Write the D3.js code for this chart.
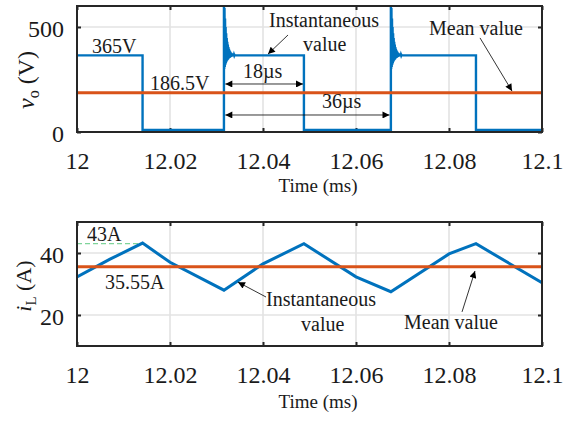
<!DOCTYPE html>
<html>
<head>
<meta charset="utf-8">
<script src="https://cdn.jsdelivr.net/npm/d3@7/dist/d3.min.js"></script>
<style>
  html, body { margin: 0; padding: 0; background: #fff; }
  svg { display: block; }
  svg text { font-family: "Liberation Serif", "Times New Roman", serif !important; fill: #1a1a1a; }
</style>
</head>
<body>
<svg id="chart" width="573" height="421"></svg>
<script>
// ---------------- data ----------------
const xTickValues = [12, 12.02, 12.04, 12.06, 12.08, 12.1];
const xTickLabels = ["12", "12.02", "12.04", "12.06", "12.08", "12.1"];
const vTickValues = [0, 500];
const vTickLabels = ["0", "500"];
const iTickValues = [20, 40];
const iTickLabels = ["20", "40"];

// output voltage: switching edges (ms) and levels (V)
const vFallTimes = [12.0141, 12.0488, 12.0858];
const vRiseTimes = [12.0316, 12.0675];
const vHigh = 365;
const vLow = 10;
// ringing after each rising edge (offset in ms, value in V)
const ringOffsets = [0, 0.00006, 0.00012, 0.00018, 0.00024, 0.0003, 0.00036, 0.00042, 0.00048, 0.00054,
                     0.0006, 0.00066, 0.00072, 0.00078, 0.00084, 0.0009, 0.00096, 0.00102, 0.00108, 0.00114,
                     0.0012, 0.00126, 0.00132, 0.00138, 0.00144, 0.0015, 0.00156, 0.00162, 0.00168, 0.00174,
                     0.0018, 0.00186, 0.00192, 0.00198, 0.00204, 0.0021, 0.00216, 0.00222, 0.00228, 0.00234];
const ringValues  = [640, 300, 590, 310, 540, 320, 500, 328, 470, 334, 448, 339, 430, 343, 416,
                     347, 405, 350, 396, 352, 389, 354, 384, 356, 380, 358, 377, 359, 375, 360,
                     373, 361, 371, 362, 369, 363, 368, 364, 367, 365];
const vMean = 186.5;

// inductor current (ms, A)
const iTimes  = [12, 12.0071, 12.0141, 12.02, 12.0316, 12.04, 12.0488, 12.06, 12.0675, 12.08, 12.0858, 12.1];
const iValues = [32.3, 38.0, 43.2, 37.0, 28.0, 36.5, 43.0, 32.3, 27.5, 39.7, 43.0, 30.4];
const iMean = 35.55;
const iPeak = 43;

// ---------------- layout ----------------
const svg = d3.select("#chart");
const FONT = "Liberation Serif, Times New Roman, serif";
const L = 77, R = 542;
const top1 = 6, bot1 = 132;
const top2 = 222, bot2 = 346;
const blue = "#0072BD", orange = "#D95319", dark = "#262626", grid = "#e3e3e3";

const x = d3.scaleLinear().domain([12, 12.1]).range([L, R]);
const yV = d3.scaleLinear().domain([0, 600]).range([bot1, top1]);
const yI = d3.scaleLinear().domain([10, 50]).range([bot2, top2]);

const defs = svg.append("defs");
defs.append("marker").attr("id", "ah").attr("viewBox", "0 0 10 10")
  .attr("refX", 10).attr("refY", 5).attr("markerWidth", 9).attr("markerHeight", 7)
  .attr("markerUnits", "userSpaceOnUse").attr("orient", "auto-start-reverse")
  .append("path").attr("d", "M0,0 L10,5 L0,10 Z").attr("fill", "#000");

function panel(yScale, top, bot, yTicks, yLabels, id) {
  const g = svg.append("g");
  defs.append("clipPath").attr("id", id).append("rect")
    .attr("x", L).attr("y", top).attr("width", R - L).attr("height", bot - top);
  // grid
  g.selectAll(".gx").data(xTickValues.slice(1, -1)).join("line")
    .attr("x1", d => x(d)).attr("x2", d => x(d)).attr("y1", top).attr("y2", bot)
    .attr("stroke", grid).attr("stroke-width", 1.6);
  g.selectAll(".gy").data(yTicks).join("line")
    .attr("x1", L).attr("x2", R).attr("y1", d => yScale(d)).attr("y2", d => yScale(d))
    .attr("stroke", grid).attr("stroke-width", 1.6);
  // axes
  const ab = g.append("g").attr("transform", `translate(0,${bot})`)
    .call(d3.axisBottom(x).tickValues(xTickValues).tickFormat((d, i) => xTickLabels[i]).tickSize(-4));
  ab.attr("font-family", FONT).attr("font-size", 24);
  ab.selectAll("text").attr("y", 37).attr("dy", 0).attr("fill", "#333");
  g.append("g").attr("transform", `translate(0,${top})`)
    .call(d3.axisTop(x).tickValues(xTickValues).tickFormat("").tickSize(-4));
  const al = g.append("g").attr("transform", `translate(${L},0)`)
    .call(d3.axisLeft(yScale).tickValues(yTicks).tickFormat((d, i) => yLabels[i]).tickSize(-4));
  al.attr("font-family", FONT).attr("font-size", 24);
  al.selectAll("text").attr("x", -13).attr("dy", 0).attr("y", 9.5).attr("fill", "#333");
  g.append("g").attr("transform", `translate(${R},0)`)
    .call(d3.axisRight(yScale).tickValues(yTicks).tickFormat("").tickSize(-4));
  g.selectAll(".domain").remove();
  g.selectAll(".tick line").attr("stroke", dark).attr("stroke-width", 2);
  return g;
}

// ----- top panel -----
panel(yV, top1, bot1, vTickValues, vTickLabels, "c1");

const vPts = [[12, vHigh]];
const edges = [];
vFallTimes.forEach(t => edges.push({t, type: "fall"}));
vRiseTimes.forEach(t => edges.push({t, type: "rise"}));
edges.sort((a, b) => a.t - b.t);
edges.forEach(e => {
  if (e.type === "fall") { vPts.push([e.t, vHigh]); vPts.push([e.t, vLow]); }
  else {
    vPts.push([e.t, vLow]);
    ringOffsets.forEach((o, k) => vPts.push([e.t + o, ringValues[k]]));
  }
});
vPts.push([12.1, vLow]);

const lineV = d3.line().x(d => x(d[0])).y(d => yV(d[1]));
svg.append("path").datum(vPts).attr("d", lineV).attr("clip-path", "url(#c1)")
  .attr("fill", "none").attr("stroke", blue).attr("stroke-width", 2.4).attr("stroke-linejoin", "miter");
svg.append("line").attr("x1", x(12)).attr("x2", x(12.1)).attr("y1", yV(vMean)).attr("y2", yV(vMean))
  .attr("stroke", orange).attr("stroke-width", 3);

svg.append("rect").attr("x", L).attr("y", top1).attr("width", R - L).attr("height", bot1 - top1)
  .attr("fill", "none").attr("stroke", dark).attr("stroke-width", 2);

// ----- bottom panel -----
panel(yI, top2, bot2, iTickValues, iTickLabels, "c2");
svg.append("line").attr("x1", x(12)).attr("x2", x(vFallTimes[0])).attr("y1", yI(iPeak)).attr("y2", yI(iPeak))
  .attr("stroke", "#7fd49a").attr("stroke-width", 1.2).attr("stroke-dasharray", "5,3");
const lineI = d3.line().x((d, k) => x(iTimes[k])).y(d => yI(d));
svg.append("path").datum(iValues).attr("d", lineI).attr("clip-path", "url(#c2)")
  .attr("fill", "none").attr("stroke", blue).attr("stroke-width", 3);
svg.append("line").attr("x1", x(12)).attr("x2", x(12.1)).attr("y1", yI(iMean)).attr("y2", yI(iMean))
  .attr("stroke", orange).attr("stroke-width", 3);
svg.append("rect").attr("x", L).attr("y", top2).attr("width", R - L).attr("height", bot2 - top2)
  .attr("fill", "none").attr("stroke", dark).attr("stroke-width", 2);

// ----- annotations -----
function txt(s, px, py, size, anchor) {
  return svg.append("text").attr("x", px).attr("y", py).attr("text-anchor", anchor || "start")
    .style("font-size", (size || 20) + "px").text(s);
}
function arrow(t1, v1, t2, v2, ys, both) {
  const l = svg.append("line").attr("x1", x(t1)).attr("y1", ys(v1)).attr("x2", x(t2)).attr("y2", ys(v2))
    .attr("stroke", "#000").attr("stroke-width", 0.8).attr("marker-end", "url(#ah)");
  if (both) l.attr("marker-start", "url(#ah)");
}

txt("365V", 92, 53);
txt("186.5V", 150, 90);
txt("Instantaneous", 269, 27);
txt("value", 303, 51);
txt("18µs", 243, 78);
txt("36µs", 322, 108);
txt("Mean value", 429, 35);
arrow(12.04538, 462, 12.04108, 371, yV);
arrow(12.08667, 448, 12.09355, 195, yV);
arrow(vRiseTimes[0] + 0.0003, 228.6, vFallTimes[1] - 0.0002, 228.6, yV, true);
arrow(vRiseTimes[0] + 0.0003, 81, vRiseTimes[1] - 0.0003, 81, yV, true);

txt("43A", 87, 241);
txt("35.55A", 105, 289);
txt("Instantaneous", 266, 306);
txt("value", 301, 331);
txt("Mean value", 404, 329);
arrow(12.04065, 25.8, 12.03462, 30.6, yI);
arrow(12.0828, 21.0, 12.08559, 34.2, yI);

// axis titles
svg.append("text").attr("x", 318).attr("y", 192).attr("text-anchor", "middle")
  .style("font-size", "19px").text("Time (ms)");
svg.append("text").attr("x", 318).attr("y", 408).attr("text-anchor", "middle")
  .style("font-size", "19px").text("Time (ms)");

const t1 = svg.append("text").attr("transform", "translate(34,80) rotate(-90)")
  .attr("text-anchor", "middle").style("font-size", "24px");
t1.append("tspan").style("font-style", "italic").text("v");
t1.append("tspan").attr("dy", 5).style("font-size", "16px").text("o");
t1.append("tspan").attr("dy", -5).text(" (V)");

const t2 = svg.append("text").attr("transform", "translate(31,286) rotate(-90)")
  .attr("text-anchor", "middle").style("font-size", "22px");
t2.append("tspan").style("font-style", "italic").text("i");
t2.append("tspan").attr("dy", 5).style("font-size", "15px").text("L");
t2.append("tspan").attr("dy", -5).text(" (A)");
</script>
</body>
</html>
